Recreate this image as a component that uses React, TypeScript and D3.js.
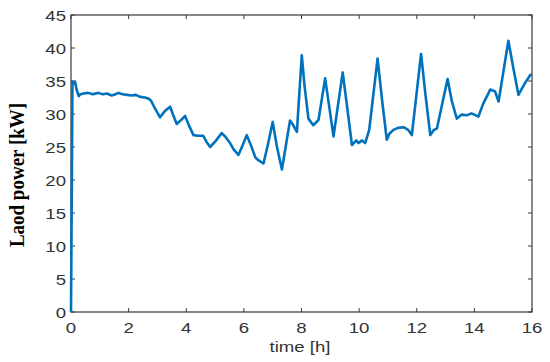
import * as d3 from 'd3'

// time axis [h]
const hours = [
  0, 0.03, 0.05, 0.09, 0.14, 0.2, 0.27, 0.33, 0.43, 0.6, 0.75, 0.95, 1.1, 1.25, 1.41, 1.55, 1.64, 1.8, 1.95,
  2.1, 2.25, 2.4, 2.57, 2.7, 2.78, 2.92, 3.09, 3.25, 3.44, 3.55, 3.67, 3.8, 3.96, 4.1, 4.25, 4.4, 4.59, 4.7,
  4.83, 5.0, 5.23, 5.35, 5.52, 5.65, 5.81, 5.95, 6.1, 6.25, 6.4, 6.5, 6.68, 6.84, 7.0, 7.15, 7.32, 7.45, 7.6,
  7.7, 7.84, 8.01, 8.1, 8.24, 8.41, 8.59, 8.82, 8.95, 9.11, 9.43, 9.6, 9.75, 9.9, 9.98, 10.1, 10.21, 10.35,
  10.64, 10.8, 10.96, 11.05, 11.19, 11.35, 11.54, 11.7, 11.83, 12.15, 12.3, 12.47, 12.6, 12.7, 13.07, 13.22,
  13.39, 13.55, 13.74, 13.9, 14.14, 14.3, 14.55, 14.72, 14.84, 15.18, 15.35, 15.53, 15.76, 15.94, 16.0,
]

// load power [kW]
const power = [
  0, 20, 34.9, 34.6, 34.9, 33.6, 32.7, 33.0, 33.1, 33.2, 33.0, 33.2, 33.0, 33.1, 32.8, 33.0, 33.2, 33.0, 32.9,
  32.8, 32.9, 32.6, 32.5, 32.3, 32.0, 30.8, 29.5, 30.4, 31.1, 29.8, 28.5, 29.0, 29.7, 28.2, 26.8, 26.7, 26.7, 25.8,
  25.0, 25.8, 27.1, 26.6, 25.6, 24.6, 23.8, 25.2, 26.8, 25.2, 23.4, 23.0, 22.5, 25.5, 28.8, 25.0, 21.6, 25.0, 29.0,
  28.4, 27.3, 38.9, 34.5, 29.3, 28.3, 29.1, 35.4, 31.5, 26.6, 36.3, 30.5, 25.3, 26.0, 25.6, 26.0, 25.6, 27.6,
  38.4, 32.0, 26.1, 27.0, 27.6, 27.9, 28.0, 27.6, 26.8, 39.1, 33.0, 26.8, 27.6, 27.8, 35.3, 31.9,
  29.3, 29.9, 29.8, 30.1, 29.6, 31.5, 33.7, 33.4, 31.9, 41.1, 37.0, 32.9, 34.7, 35.9, 36.0,
]

const xTicks = [0, 2, 4, 6, 8, 10, 12, 14, 16]
const yTicks = [0, 5, 10, 15, 20, 25, 30, 35, 40, 45]

const W = 550
const H = 362
const left = 71
const right = 532
const top = 15
const bottom = 312
const axisColor = '#3a3a3a'
const labelFont = '"Liberation Sans", Arial, sans-serif'

export default function App() {
  const x = d3.scaleLinear().domain([0, 16]).range([left, right])
  const y = d3.scaleLinear().domain([0, 45]).range([bottom, top])

  const line = d3.line<number>()
    .x((_, i) => x(hours[i]))
    .y(d => y(d))

  return (
    <svg width={W} height={H} style={{position: 'absolute', left: 0, top: 0, background: '#fff'}}>
      {/* frame */}
      <rect x={left} y={top} width={right - left} height={bottom - top}
        fill="none" stroke={axisColor} strokeWidth={1.2} />

      {/* x ticks, inward on bottom and top */}
      {xTicks.map(t => (
        <g key={'x' + t}>
          <line x1={x(t)} x2={x(t)} y1={bottom} y2={bottom - 4} stroke={axisColor} />
          <line x1={x(t)} x2={x(t)} y1={top} y2={top + 4} stroke={axisColor} />
          <text x={0} y={0} transform={`translate(${x(t)},${bottom + 21}) scale(1.2,1)`}
            textAnchor="middle" fontFamily={labelFont} fontSize={15.5} fill="#333">{t}</text>
        </g>
      ))}

      {/* y ticks, inward on left and right */}
      {yTicks.map(t => (
        <g key={'y' + t}>
          <line x1={left} x2={left + 4} y1={y(t)} y2={y(t)} stroke={axisColor} />
          <line x1={right} x2={right - 4} y1={y(t)} y2={y(t)} stroke={axisColor} />
          <text x={0} y={0} transform={`translate(66,${y(t) + 5.5}) scale(1.2,1)`}
            textAnchor="end" fontFamily={labelFont} fontSize={15.5} fill="#333">{t}</text>
        </g>
      ))}

      {/* series */}
      <path d={line(power) || ''} fill="none" stroke="#0072BD" strokeWidth={2.6} strokeLinejoin="round" />

      {/* axis labels */}
      <text x={0} y={0} transform={`translate(300,352) scale(1.2,1)`} textAnchor="middle"
        fontFamily={labelFont} fontSize={15.5} fill="#333">time [h]</text>
      <text x={0} y={0} transform={`translate(24,175) rotate(-90) scale(1,1.15)`} textAnchor="middle"
        fontFamily='"Liberation Serif", "Times New Roman", serif' fontWeight="bold" fontSize={19}
        fill="#000">Laod power [kW]</text>
    </svg>
  )
}
